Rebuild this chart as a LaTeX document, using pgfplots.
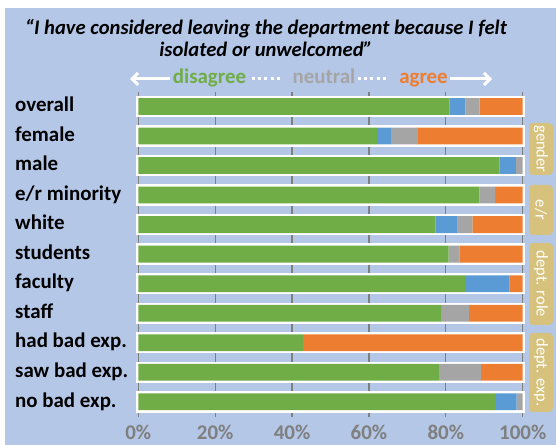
\documentclass[border=0pt]{standalone}
\usepackage{fontspec}
\setmainfont{Carlito}
\usepackage{pgfplots}
\usepackage{pgfplotstable}
\pgfplotsset{compat=1.18}
\usetikzlibrary{arrows.meta}
\definecolor{bg}{HTML}{B4C7E7}
\definecolor{cgreen}{HTML}{70AD47}
\definecolor{cblue}{HTML}{5B9BD5}
\definecolor{cgray}{HTML}{A5A5A5}
\definecolor{corange}{HTML}{ED7D31}
\definecolor{ctan}{HTML}{D6C27C}
\definecolor{tickgray}{HTML}{7F7F7F}

\pgfplotstableread{
row total green blue gray orange
0 100 81.0 4.1 3.7 11.2
1 100 62.1 3.6 7.0 27.3
2 100 93.9 4.3 1.8 0
3 100 88.7 0 4.1 7.2
4 100 77.3 5.8 3.8 13.1
5 100 80.7 0 2.8 16.5
6 100 85.0 11.5 0 3.5
7 100 78.8 0 7.2 14.0
8 100 42.8 0 0 57.2
9 100 78.2 0 11.0 10.8
10 100 92.8 5.6 1.6 0
}\datatable

\begin{document}
\begin{tikzpicture}[x=1bp,y=1bp]
\clip (0,0) rectangle (556,445);
\fill[white] (0,0) rectangle (556,445);
\fill[bg] (5,0) rectangle (556,437);

% title
\node[anchor=base, font=\bfseries\itshape\fontsize{20.7}{22}\selectfont, inner sep=0] at (266,410) {``I have considered leaving the department because I felt};
\node[anchor=base, font=\bfseries\itshape\fontsize{20.7}{22}\selectfont, inner sep=0] at (266,388.5) {isolated or unwelcomed''};

% header
\draw[white, line width=3bp, -{Straight Barb[length=6bp, width=12bp]}] (170,366) -- (130,366);
\node[anchor=base, text=cgreen, font=\bfseries\fontsize{21}{21}\selectfont, inner sep=0] at (209.5,361) {disagree};
\draw[white, line width=3bp, dash pattern=on 3bp off 3.2bp] (252,366) -- (282,366);
\node[anchor=base, text=cgray, font=\bfseries\fontsize{21}{21}\selectfont, inner sep=0] at (324,361) {neutral};
\draw[white, line width=3bp, dash pattern=on 3bp off 3.2bp] (358,366) -- (388,366);
\node[anchor=base, text=corange, font=\bfseries\fontsize{21}{21}\selectfont, inner sep=0] at (423.5,361) {agree};
\draw[white, line width=3bp, -{Straight Barb[length=6bp, width=12bp]}] (450,366) -- (492,366);

% underlay: grid and white bar outlines
\begin{axis}[at={(138.3bp,28.4bp)}, anchor=south west, scale only axis, clip=false,
  width=384.4bp, height=324.9bp, xmin=0, xmax=100, ymin=-0.5, ymax=10.5,
  y dir=reverse, axis line style={draw=none}, xmajorgrids,
  major grid style={tickgray, line width=1.2bp},
  xtick={0,20,40,60,80,100}, ytick=\empty, xticklabels=\empty,
  major tick length=0pt, xbar, bar width=16.8bp]
\addplot[fill=white, draw=white, line width=4.6bp] table[x=total, y=row] {\datatable};
\end{axis}

% stacked bars
\begin{axis}[at={(138.3bp,28.4bp)}, anchor=south west, scale only axis,
  width=384.4bp, height=324.9bp, xmin=0, xmax=100, ymin=-0.5, ymax=10.5,
  y dir=reverse, axis line style={draw=none}, xbar stacked, bar width=16.8bp,
  major tick length=0pt,
  xtick={0,20,40,60,80,100},
  xticklabels={0\%,20\%,40\%,60\%,80\%,100\%},
  ytick={0,1,2,3,4,5,6,7,8,9,10},
  yticklabels={overall,female,male,e/r minority,white,students,faculty,staff,had bad exp.,saw bad exp.,no bad exp.},
  /pgf/number format/assume math mode=true,
  xticklabel style={font=\bfseries\fontsize{21}{21}\selectfont, text=tickgray, inner sep=0pt, yshift=-8bp},
  yticklabel style={anchor=base west, inner sep=0pt, xshift=-123.3bp, yshift=-5.2bp, font=\bfseries\fontsize{21}{21}\selectfont, text=black}]
\addplot[fill=cgreen, draw=none] table[x=green, y=row] {\datatable};
\addplot[fill=cblue, draw=none] table[x=blue, y=row] {\datatable};
\addplot[fill=cgray, draw=none] table[x=gray, y=row] {\datatable};
\addplot[fill=corange, draw=none] table[x=orange, y=row] {\datatable};
\end{axis}

% group tags
\node[fill=ctan, rounded corners=4bp, rotate=-90, text=white, minimum width=52bp, minimum height=24bp, inner sep=0pt, font=\fontsize{16.5}{16.5}\selectfont] at (541,296) {gender};
\node[fill=ctan, rounded corners=4bp, rotate=-90, text=white, minimum width=50bp, minimum height=24bp, inner sep=0pt, font=\fontsize{16.5}{16.5}\selectfont] at (541,235) {e/r};
\node[fill=ctan, rounded corners=4bp, rotate=-90, text=white, minimum width=82bp, minimum height=24bp, inner sep=0pt, font=\fontsize{16.5}{16.5}\selectfont] at (541,161) {dept. role};
\node[fill=ctan, rounded corners=4bp, rotate=-90, text=white, minimum width=79bp, minimum height=24bp, inner sep=0pt, font=\fontsize{16.5}{16.5}\selectfont] at (541,72.5) {dept. exp.};
\end{tikzpicture}
\end{document}
